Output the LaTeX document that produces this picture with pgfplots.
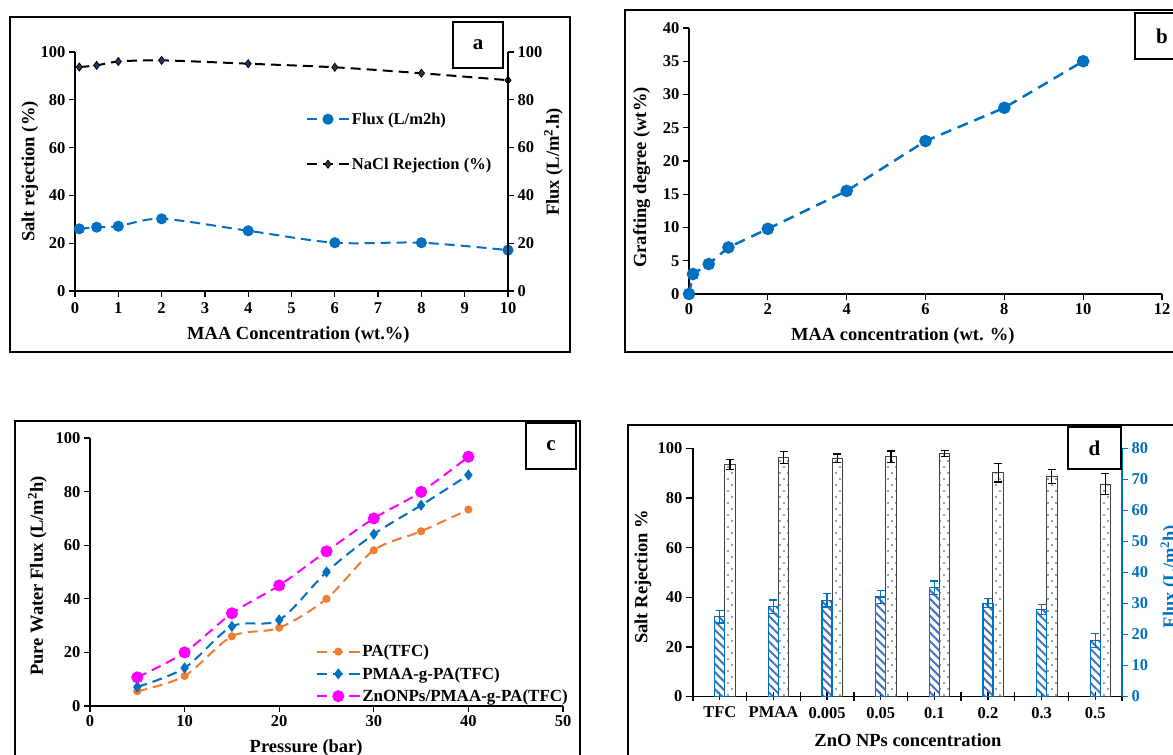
\documentclass[border=0pt]{standalone}
\usepackage{fontspec}
\setmainfont{Liberation Serif}
\usepackage{pgfplots}
\usepackage{pgfplotstable}
\pgfplotsset{compat=1.18}
\usetikzlibrary{patterns,patterns.meta}
\definecolor{xblue}{RGB}{0,112,192}
\definecolor{xorange}{RGB}{237,125,49}
\definecolor{xmag}{RGB}{255,0,255}
\definecolor{hatchblue}{RGB}{68,114,196}
\definecolor{navy}{RGB}{31,56,100}
\pgfdeclarepatternformonly{sdots}{\pgfqpoint{-1pt}{-1pt}}{\pgfqpoint{9pt}{13pt}}{\pgfqpoint{8pt}{12pt}}{%
  \pgfpathcircle{\pgfqpoint{0pt}{0pt}}{0.8pt}%
  \pgfpathcircle{\pgfqpoint{4pt}{6pt}}{0.8pt}%
  \pgfusepath{fill}}
\newcommand{\tf}{\fontsize{16.5}{16.5}\selectfont\bfseries}
\newcommand{\lf}{\fontsize{18.5}{18.5}\selectfont\bfseries}
\newcommand{\gf}{\fontsize{16.5}{16.5}\selectfont\bfseries}
\newcommand{\gfc}{\fontsize{17}{17}\selectfont\bfseries}
\pgfplotsset{
  mystyle/.style={
    scale only axis, anchor=south west,
    /pgf/number format/assume math mode=true,
    tick label style={font=\tf},
    label style={font=\lf},
    axis line style={line width=1.3pt},
    every tick/.style={line width=1.3pt, black},
    major tick length=6pt,
    tick align=outside,
    axis x line*=bottom, axis y line*=left,
    clip=false,
    legend cell align=left,
    legend image code/.code={\draw[mark repeat=2,mark phase=2,##1] plot coordinates {(0pt,0pt) (21pt,0pt) (42pt,0pt)};},
  },
  dl/.style={dash pattern=on 10pt off 6pt, line width=2pt},
}
\pgfplotstableread{
x y e
0.191 93.6 2.1
1.191 96.4 2.5
2.191 96.0 1.8
3.191 96.6 2.4
4.191 98.0 1.2
5.191 90.2 3.7
6.191 88.8 2.8
7.191 85.6 4.3
}\rejtab
\pgfplotstableread{
x y e
0 25.7 2.0
1 29.0 2.15
2 31.0 2.15
3 32.1 2.0
4 35.1 2.15
5 30.1 1.5
6 28.0 1.6
7 18.1 2.3
}\fluxtab
\begin{document}
\begin{tikzpicture}[x=1pt,y=1pt]
\useasboundingbox (0,0) rectangle (1173,755);
\fill[white] (0,0) rectangle (1173,755);
% frames
\draw[line width=1.3pt] (10,403) rectangle (570,738);
\draw[line width=1.3pt] (1180,745) -- (625,745) -- (625,403) -- (1180,403);
\draw[line width=1.3pt] (15,-5) -- (15,334) -- (580,334) -- (580,-5);
\draw[line width=1.3pt] (628,-5) -- (628,330) -- (1180,330);

% ---------- panel a ----------
\begin{axis}[mystyle, at={(75pt,464pt)}, width=433pt, height=239pt,
  xmin=0, xmax=10, ymin=0, ymax=100, xtick={0,...,10}, ytick={0,20,...,100},
  xticklabel style={yshift=-2pt},
  xlabel={MAA Concentration (wt.\%)}, ylabel={Salt rejection (\%)},
  xlabel style={at={(axis description cs:0.516,-0.184)}, anchor=center},
  ylabel style={at={(axis description cs:-0.104,0.5)}, anchor=center},
  legend style={draw=none, fill=none, at={(axis cs:5.33,75.5)}, anchor=north west, font=\gf, row sep=28pt, inner sep=0pt},
]
\addplot[xblue, dl, smooth, tension=0.5, mark=*, mark size=4.5pt, mark options={solid, fill=xblue}] coordinates {
(0.1,26.0) (0.5,26.7) (1,27.1) (2,30.2) (4,25.2) (6,20.2) (8,20.2) (10,17.1)};
\addlegendentry{Flux (L/m2h)}
\addplot[black, dl, smooth, tension=0.5, mark=diamond*, mark size=4pt, mark options={solid, fill=navy, draw=black, line width=0.8pt}] coordinates {
(0.1,93.7) (0.5,94.4) (1,96.0) (2,96.5) (4,95.1) (6,93.6) (8,91.1) (10,88.2)};
\addlegendentry{NaCl Rejection (\%)}
\end{axis}
\begin{axis}[mystyle, at={(75pt,464pt)}, width=433pt, height=239pt,
  xmin=0, xmax=10, ymin=0, ymax=100, axis x line=none, axis y line*=right, ytick={0,20,...,100},
  ylabel={Flux (L/m\textsuperscript{2}.h)},
  ylabel style={at={(axis description cs:1.105,0.54)}, anchor=center},
]
\addplot[draw=none] coordinates {(0,0)};
\end{axis}
\draw[line width=1.3pt] (453,687) rectangle (503,733);
\node[font=\fontsize{21}{21}\selectfont\bfseries] at (478,710) {a};

% ---------- panel b ----------
\begin{axis}[mystyle, at={(689pt,461pt)}, width=473pt, height=266pt,
  xmin=0, xmax=12, ymin=0, ymax=40, xtick={0,2,...,12}, ytick={0,5,...,40},
  xlabel={MAA concentration (wt. \%)}, ylabel={Grafting degree (wt\%)},
  xlabel style={at={(axis description cs:0.452,-0.158)}, anchor=center},
  ylabel style={at={(axis description cs:-0.1,0.438)}, anchor=center},
]
\addplot[xblue, dash pattern=on 11pt off 7pt, line width=2.5pt, mark=*, mark size=5pt, mark options={solid, fill=xblue}] coordinates {
(0,0) (0.1,3.0) (0.5,4.5) (1,7.0) (2,9.8) (4,15.5) (6,23.0) (8,28.0) (10,35.0)};
\end{axis}
\draw[line width=1.3pt] (1185,696) -- (1135,696) -- (1135,742) -- (1185,742);
\node[font=\fontsize{21}{21}\selectfont\bfseries] at (1162,719) {b};

% ---------- panel c ----------
\begin{axis}[mystyle, at={(90pt,49pt)}, width=473pt, height=268pt,
  xmin=0, xmax=50, ymin=0, ymax=100, xtick={0,10,...,50}, ytick={0,20,...,100},
  xlabel={Pressure (bar)}, ylabel={Pure Water Flux (L/m\textsuperscript{2}h)},
  xlabel style={at={(axis description cs:0.457,-0.157)}, anchor=center},
  ylabel style={at={(axis description cs:-0.111,0.485)}, anchor=center},
  legend style={draw=none, fill=none, at={(axis cs:23.9,23.6)}, anchor=north west, font=\gfc, row sep=5pt, inner sep=0pt},
]
\addplot[xorange, dl, smooth, tension=0.5, mark=*, mark size=3pt, mark options={solid, fill=xorange}] coordinates {
(5,5.5) (10,11.2) (15,26.0) (20,29.2) (25,40.0) (30,58.1) (35,65.2) (40,73.3)};
\addlegendentry{PA(TFC)}
\addplot[xblue, dl, smooth, tension=0.5, mark=diamond*, mark size=4pt, mark options={solid, fill=xblue}] coordinates {
(5,7.1) (10,14.2) (15,29.7) (20,32.1) (25,50.0) (30,64.1) (35,74.9) (40,86.2)};
\addlegendentry{PMAA-g-PA(TFC)}
\addplot[xmag, dl, smooth, tension=0.5, mark=*, mark size=5pt, mark options={solid, fill=xmag}] coordinates {
(5,10.7) (10,20.0) (15,34.6) (20,45.0) (25,57.7) (30,70.0) (35,79.9) (40,93.0)};
\addlegendentry{ZnONPs/PMAA-g-PA(TFC)}
\end{axis}
\draw[line width=1.3pt] (526,286) rectangle (576,332);
\node[font=\fontsize{21}{21}\selectfont\bfseries] at (551,309) {c};

% ---------- panel d ----------
\begin{axis}[mystyle, at={(693pt,58.5pt)}, width=429pt, height=248pt,
  xmin=-0.5, xmax=7.5, ymin=0, ymax=100, ytick={0,20,...,100},
  xtick={0,...,7}, xticklabels={TFC,PMAA,0.005,0.05,0.1,0.2,0.3,0.5},
  minor xtick={-0.5,0.5,...,7.5},
  major tick length=7pt, minor tick length=8pt,
  every minor tick/.style={line width=1.3pt, black},
  every x tick/.append style={yshift=4pt},
  xticklabel style={yshift=0pt},
  xlabel={ZnO NPs concentration}, ylabel={Salt Rejection \%},
  xlabel style={at={(axis description cs:0.501,-0.175)}, anchor=center},
  ylabel style={at={(axis description cs:-0.117,0.482)}, anchor=center},
]
\addplot[ybar, bar width=10.5pt, bar shift=0pt, draw=black!75, line width=1pt, pattern=sdots, pattern color=black!75,
  error bars/.cd, y dir=both, y explicit, error bar style={black, line width=1.2pt, solid},
  error mark options={rotate=90, mark size=4pt, black, line width=1.2pt}]
  table[x=x, y=y, y error=e] {\rejtab};
\end{axis}
\begin{axis}[mystyle, at={(693pt,58.5pt)}, width=429pt, height=248pt,
  xmin=-0.5, xmax=7.5, ymin=0, ymax=80, axis x line=none, axis y line*=right,
  ytick={0,10,...,80},
  y axis line style={xblue}, every tick/.style={line width=1.3pt, xblue},
  yticklabel style={xblue},
  ylabel={Flux (L/m\textsuperscript{2}h)}, ylabel style={xblue, at={(axis description cs:1.112,0.484)}, anchor=center},
]
\addplot[ybar, bar width=10pt, bar shift=0pt, draw=xblue, line width=1.3pt,
  pattern={Lines[angle=-45, distance=6pt, line width=2pt]}, pattern color=hatchblue,
  error bars/.cd, y dir=both, y explicit, error bar style={xblue, line width=1.2pt, solid},
  error mark options={rotate=90, mark size=4pt, xblue, line width=1.2pt}]
  table[x=x, y=y, y error=e] {\fluxtab};
\end{axis}
\draw[line width=1.3pt] (1068,286) rectangle (1121,328);
\node[font=\fontsize{21}{21}\selectfont\bfseries] at (1094.5,307) {d};
\end{tikzpicture}
\end{document}
